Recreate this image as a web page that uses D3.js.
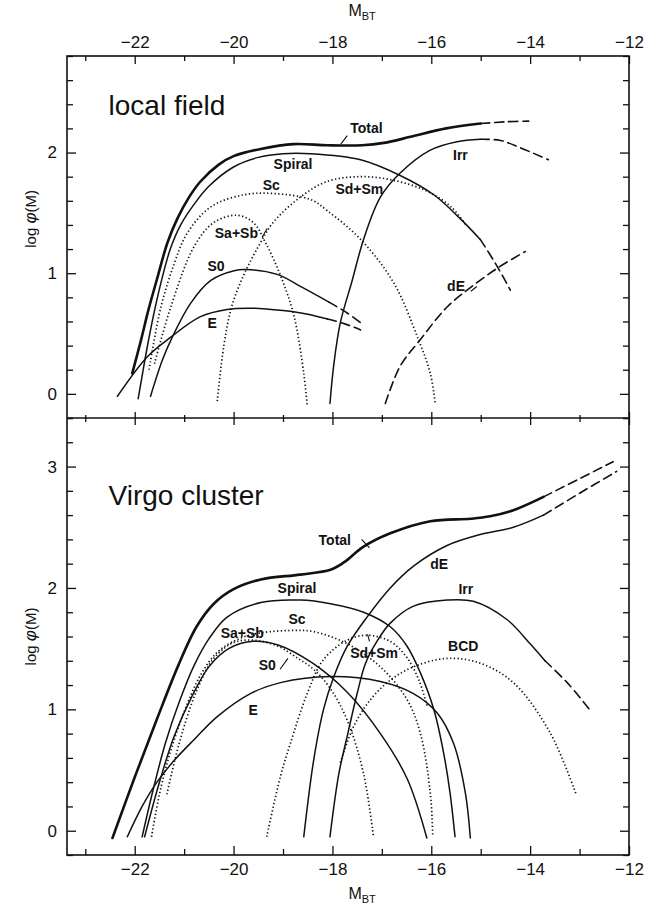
<!DOCTYPE html>
<html><head><meta charset="utf-8">
<script src="https://cdn.jsdelivr.net/npm/d3@7"></script>
<style>
html,body{margin:0;padding:0;background:#fff;}
svg{display:block;font-family:"Liberation Sans",Arial,sans-serif;}
</style></head>
<body>
<script>
// ---------- data ----------
const xMajorTicks = [-22, -20, -18, -16, -14, -12];
const xMinorTicks = [-23, -21, -19, -17, -15, -13];
const topYMajor = [0, 1, 2];
const botYMajor = [0, 1, 2, 3];

// local field (top panel): [M_BT, log phi]
const lfTotal = [[-22.05,0.17],[-21.87,0.45],[-21.72,0.7],[-21.55,0.95],[-21.34,1.25],[-21.14,1.45],[-20.9,1.63],[-20.67,1.76],[-20.3,1.9],[-20.0,1.97],[-19.45,2.03],[-18.78,2.07],[-18.1,2.06],[-17.4,2.06],[-16.96,2.08],[-16.42,2.13],[-15.7,2.2],[-15.0,2.24]];
const lfTotalExt = [[-15.0,2.24],[-14.5,2.255],[-14.03,2.26]];
const lfSpiral = [[-21.93,-0.04],[-21.85,0.15],[-21.75,0.38],[-21.62,0.65],[-21.47,0.92],[-21.28,1.2],[-21.07,1.4],[-20.8,1.57],[-20.5,1.72],[-20.0,1.88],[-19.5,1.96],[-19.0,1.99],[-18.44,1.99],[-17.43,1.94],[-16.63,1.81],[-15.95,1.65],[-15.41,1.45],[-15.01,1.28]];
const lfSpiralExt = [[-15.01,1.28],[-14.7,1.08],[-14.4,0.86]];
const lfE = [[-22.35,-0.02],[-21.74,0.31],[-21.27,0.47],[-20.67,0.64],[-20.13,0.70],[-19.6,0.71],[-19.0,0.69],[-18.5,0.66],[-18.1,0.62]];
const lfEExt = [[-18.1,0.62],[-17.75,0.58],[-17.43,0.53]];
const lfS0 = [[-21.68,-0.02],[-21.44,0.28],[-21.24,0.47],[-20.87,0.75],[-20.46,0.94],[-19.99,1.02],[-19.75,1.03],[-19.12,0.99],[-18.6,0.88],[-18.07,0.76]];
const lfS0Ext = [[-18.07,0.76],[-17.7,0.67],[-17.37,0.57]];
const lfSc = [[-21.71,0.2],[-21.47,0.72],[-21.2,1.08],[-20.94,1.33],[-20.46,1.55],[-19.79,1.65],[-19.18,1.66],[-18.44,1.61],[-18.11,1.52],[-17.43,1.28],[-16.76,0.92],[-16.26,0.45],[-16.02,0.17],[-15.92,-0.08]];
const lfSaSb = [[-21.6,0.25],[-21.27,0.72],[-20.8,1.22],[-20.4,1.42],[-19.93,1.48],[-19.6,1.42],[-19.35,1.25],[-19.05,0.98],[-18.78,0.65],[-18.58,0.17],[-18.51,-0.1]];
const lfSdSm = [[-20.33,-0.06],[-20.2,0.39],[-20.04,0.72],[-19.8,0.98],[-19.5,1.22],[-19.2,1.42],[-18.65,1.63],[-18.11,1.76],[-17.43,1.80],[-16.76,1.77],[-16.09,1.68],[-15.6,1.55],[-15.3,1.4]];
const lfIrr = [[-18.05,-0.08],[-17.97,0.25],[-17.84,0.59],[-17.6,0.94],[-17.37,1.28],[-17.03,1.63],[-16.63,1.83],[-16.02,2.02],[-15.48,2.09],[-15.01,2.11]];
const lfIrrExt = [[-15.01,2.11],[-14.6,2.1],[-14.2,2.04],[-13.63,1.94]];
const lfDE = [[-16.93,-0.08],[-16.63,0.23],[-16.26,0.43],[-15.68,0.72],[-15.21,0.88],[-14.67,1.04],[-14.1,1.18]];

// Virgo cluster (bottom panel)
const vcTotal = [[-22.45,-0.06],[-22.0,0.44],[-21.55,0.92],[-21.12,1.36],[-20.75,1.68],[-20.4,1.87],[-20.0,1.99],[-19.45,2.07],[-18.65,2.11],[-18.04,2.15],[-17.77,2.21],[-17.37,2.34],[-16.83,2.45],[-16.02,2.55],[-15.2,2.57],[-14.81,2.59],[-14.34,2.64],[-13.73,2.75]];
const vcTotalExt = [[-13.73,2.75],[-13.0,2.9],[-12.32,3.04]];
const vcDE = [[-18.58,-0.05],[-18.38,0.58],[-18.18,1.0],[-17.97,1.27],[-17.7,1.52],[-17.3,1.76],[-16.83,2.0],[-16.36,2.18],[-15.68,2.35],[-15.01,2.44],[-14.34,2.50],[-13.73,2.60]];
const vcDEExt = [[-13.73,2.60],[-13.0,2.78],[-12.25,2.96]];
const vcIrr = [[-18.05,-0.05],[-17.87,0.47],[-17.7,0.78],[-17.5,1.13],[-17.33,1.38],[-17.1,1.56],[-16.83,1.71],[-16.36,1.85],[-15.68,1.9],[-15.15,1.89],[-14.47,1.74],[-14.0,1.54],[-13.7,1.40]];
const vcIrrExt = [[-13.7,1.40],[-13.25,1.22],[-12.8,1.0]];
const vcSpiral = [[-21.85,-0.05],[-21.62,0.35],[-21.38,0.72],[-21.1,1.06],[-20.8,1.36],[-20.5,1.58],[-20.13,1.76],[-19.45,1.88],[-18.65,1.90],[-18.04,1.87],[-17.37,1.80],[-16.83,1.68],[-16.49,1.52],[-16.22,1.30],[-15.95,1.0],[-15.75,0.64],[-15.62,0.31],[-15.52,-0.05]];
const vcS0 = [[-21.8,-0.05],[-21.5,0.4],[-21.2,0.78],[-20.85,1.1],[-20.5,1.35],[-20.1,1.5],[-19.6,1.56],[-19.1,1.53],[-18.4,1.38],[-17.7,1.14],[-17.03,0.80],[-16.49,0.43],[-16.09,-0.06]];
const vcE = [[-22.15,-0.05],[-21.85,0.2],[-21.55,0.4],[-21.2,0.58],[-20.8,0.75],[-20.33,0.94],[-19.66,1.13],[-19.05,1.22],[-18.04,1.27],[-17.03,1.23],[-16.36,1.13],[-15.88,0.97],[-15.55,0.72],[-15.31,0.31],[-15.21,-0.06]];
const vcSc = [[-21.66,-0.05],[-21.5,0.3],[-21.3,0.62],[-21.0,0.98],[-20.67,1.28],[-20.33,1.47],[-19.9,1.58],[-19.45,1.63],[-18.78,1.65],[-18.38,1.64],[-17.7,1.54],[-17.03,1.35],[-16.49,1.08],[-16.22,0.80],[-16.02,0.31],[-15.97,-0.05]];
const vcSaSb = [[-21.35,0.3],[-21.1,0.72],[-20.75,1.15],[-20.4,1.42],[-20.0,1.55],[-19.6,1.57],[-19.1,1.52],[-18.7,1.42],[-18.38,1.33],[-18.04,1.17],[-17.7,0.91],[-17.37,0.47],[-17.17,-0.05]];
const vcSdSm = [[-19.33,-0.05],[-19.05,0.45],[-18.85,0.72],[-18.51,1.13],[-18.18,1.41],[-17.7,1.57],[-17.3,1.61],[-16.83,1.56],[-16.5,1.43],[-16.25,1.24],[-16.08,1.02]];
const vcBCD = [[-17.84,0.56],[-17.57,0.86],[-17.23,1.08],[-16.83,1.24],[-16.36,1.35],[-15.68,1.42],[-15.01,1.38],[-14.34,1.22],[-13.6,0.81],[-13.06,0.29]];

// curve labels: [text, M_BT, log phi]
const lfLabels = [["Total",-17.64,2.16],["Spiral",-19.19,1.86],["Sc",-19.41,1.69],["Sd+Sm",-17.94,1.66],["Sa+Sb",-20.38,1.29],["S0",-20.53,1.02],["E",-20.53,0.55],["Irr",-15.56,1.94],["dE",-15.68,0.85]];
const vcLabels = [["Total",-18.28,2.35],["Spiral",-19.11,1.96],["Sc",-18.89,1.70],["Sa+Sb",-20.26,1.59],["S0",-19.49,1.32],["E",-19.70,0.95],["Sd+Sm",-17.64,1.42],["dE",-16.02,2.16],["Irr",-15.45,1.95],["BCD",-15.66,1.48]];
// label leader ticks: [x1,y1,x2,y2]
const lfLeaders = [[-17.83,2.07,-17.70,2.14],[-19.42,1.30,-19.32,1.37],[-15.20,0.85,-15.08,0.89]];
const vcLeaders = [[-17.41,2.40,-17.25,2.33],[-19.06,1.33,-18.90,1.42],[-17.29,1.62,-17.25,1.56]];
const panelTitles = ["local field", "Virgo cluster"];

// ---------- layout ----------
const W = 651, H = 905;
const L = 67, R = 629, T = 56, MID = 418, B = 855;
const x = d3.scaleLinear().domain([-23.37, -12]).range([L, R]);
const yTop = d3.scaleLinear().domain([-0.2, 2.8]).range([MID, T]);
const yBot = d3.scaleLinear().domain([-0.2, 3.4]).range([B, MID]);

const svg = d3.select("body").append("svg").attr("width", W).attr("height", H);

const styles = {
  total: {w: 2.6, dash: null},
  solid: {w: 1.5, dash: null},
  dashed: {w: 1.6, dash: "9,5"},
  dotted: {w: 1.7, dash: "1.3,2.4"}
};

function drawPanel(y, series, labels, leaders, title, titleY) {
  const g = svg.append("g");
  const line = d3.line().x(d => x(d[0])).y(d => y(d[1])).curve(d3.curveCatmullRom.alpha(0.5));
  series.forEach(s => {
    const st = styles[s.style];
    g.append("path").datum(s.data).attr("d", line)
      .attr("fill", "none").attr("stroke", "#111")
      .attr("stroke-width", st.w)
      .attr("stroke-dasharray", st.dash)
      .attr("stroke-linecap", s.style === "dotted" ? "butt" : "round")
      .attr("stroke-linejoin", "round");
  });
  g.selectAll("text.lab").data(labels).join("text")
    .attr("x", d => x(d[1])).attr("y", d => y(d[2]))
    .attr("font-size", 14).attr("font-weight", "bold").attr("fill", "#111")
    .text(d => d[0]);
  g.selectAll("line.ld").data(leaders).join("line")
    .attr("x1", d => x(d[0])).attr("y1", d => y(d[1]))
    .attr("x2", d => x(d[2])).attr("y2", d => y(d[3]))
    .attr("stroke", "#111").attr("stroke-width", 1.1);
  g.append("text").attr("x", x(-22.53)).attr("y", y(titleY))
    .attr("font-size", 28).attr("fill", "#111").text(title);
}

drawPanel(yTop, [
  {data: lfSc, style: "dotted"}, {data: lfSaSb, style: "dotted"}, {data: lfSdSm, style: "dotted"},
  {data: lfE, style: "solid"}, {data: lfEExt, style: "dashed"},
  {data: lfS0, style: "solid"}, {data: lfS0Ext, style: "dashed"},
  {data: lfSpiral, style: "solid"}, {data: lfSpiralExt, style: "dashed"},
  {data: lfIrr, style: "solid"}, {data: lfIrrExt, style: "dashed"},
  {data: lfDE, style: "dashed"},
  {data: lfTotal, style: "total"}, {data: lfTotalExt, style: "dashed"}
], lfLabels, lfLeaders, panelTitles[0], 2.31);

drawPanel(yBot, [
  {data: vcSc, style: "dotted"}, {data: vcSaSb, style: "dotted"}, {data: vcSdSm, style: "dotted"}, {data: vcBCD, style: "dotted"},
  {data: vcE, style: "solid"}, {data: vcS0, style: "solid"}, {data: vcSpiral, style: "solid"},
  {data: vcIrr, style: "solid"}, {data: vcIrrExt, style: "dashed"},
  {data: vcDE, style: "solid"}, {data: vcDEExt, style: "dashed"},
  {data: vcTotal, style: "total"}, {data: vcTotalExt, style: "dashed"}
], vcLabels, vcLeaders, panelTitles[1], 2.68);

// ---------- axes ----------
const fmt = d3.format("d");
function styleAxis(sel, fs) {
  sel.select(".domain").remove();
  sel.selectAll(".tick line").attr("stroke", "#111").attr("stroke-width", 1.3);
  sel.selectAll(".tick text").attr("font-size", fs).attr("fill", "#111")
     .attr("font-family", "Liberation Sans, Arial, sans-serif");
}
function minorY(y) {
  const d = y.domain(); const out = [];
  for (let v = Math.ceil(d[0] * 5) / 5; v <= d[1] + 1e-9; v += 0.2) {
    const r = Math.round(v * 10) / 10;
    if (Math.abs(r - Math.round(r)) > 1e-6) out.push(r);
  }
  return out;
}

// top axis
svg.append("g").attr("transform", `translate(0,${T})`)
  .call(d3.axisTop(x).tickValues(xMajorTicks).tickSize(-8).tickPadding(8).tickFormat(fmt))
  .call(s => styleAxis(s, 17));
svg.append("g").attr("transform", `translate(0,${T})`)
  .call(d3.axisTop(x).tickValues(xMinorTicks).tickSize(-5).tickFormat(""))
  .call(s => styleAxis(s, 17));
// divider ticks (both directions)
[[xMajorTicks, 7], [xMinorTicks, 4]].forEach(([tv, sz]) => {
  svg.append("g").attr("transform", `translate(0,${MID})`)
    .call(d3.axisBottom(x).tickValues(tv).tickSize(sz).tickFormat("")).call(s => styleAxis(s, 17));
  svg.append("g").attr("transform", `translate(0,${MID})`)
    .call(d3.axisTop(x).tickValues(tv).tickSize(sz - 1).tickFormat("")).call(s => styleAxis(s, 17));
});
// bottom axis
svg.append("g").attr("transform", `translate(0,${B})`)
  .call(d3.axisBottom(x).tickValues(xMajorTicks).tickSize(-9).tickPadding(8).tickFormat(fmt))
  .call(s => styleAxis(s, 17));
svg.append("g").attr("transform", `translate(0,${B})`)
  .call(d3.axisBottom(x).tickValues(xMinorTicks).tickSize(-6).tickFormat(""))
  .call(s => styleAxis(s, 17));

// left / right axes
[[yTop, topYMajor], [yBot, botYMajor]].forEach(([y, maj]) => {
  svg.append("g").attr("transform", `translate(${L},0)`)
    .call(d3.axisLeft(y).tickValues(maj).tickSize(-9).tickPadding(10).tickFormat(fmt))
    .call(s => styleAxis(s, 17));
  svg.append("g").attr("transform", `translate(${L},0)`)
    .call(d3.axisLeft(y).tickValues(minorY(y)).tickSize(-6).tickFormat(""))
    .call(s => styleAxis(s, 17));
  svg.append("g").attr("transform", `translate(${R},0)`)
    .call(d3.axisRight(y).tickValues(maj).tickSize(-9).tickFormat(""))
    .call(s => styleAxis(s, 17));
  svg.append("g").attr("transform", `translate(${R},0)`)
    .call(d3.axisRight(y).tickValues(minorY(y)).tickSize(-6).tickFormat(""))
    .call(s => styleAxis(s, 17));
});

// frame
svg.append("rect").attr("x", L).attr("y", T).attr("width", R - L).attr("height", B - T)
  .attr("fill", "none").attr("stroke", "#111").attr("stroke-width", 1.6);
svg.append("line").attr("x1", L).attr("x2", R).attr("y1", MID).attr("y2", MID)
  .attr("stroke", "#111").attr("stroke-width", 1.6);

// axis titles
function mbt(xc, yb) {
  const t = svg.append("text").attr("x", xc).attr("y", yb).attr("text-anchor", "middle")
    .attr("font-size", 16).attr("fill", "#111");
  t.append("tspan").text("M");
  t.append("tspan").attr("font-size", 11).attr("dy", 4).text("BT");
}
mbt((x(-17.4)), 16);
mbt((x(-17.4)), 899);

function ylab(yc) {
  const t = svg.append("text").attr("transform", `translate(36,${yc}) rotate(-90)`)
    .attr("text-anchor", "middle").attr("font-size", 15).attr("fill", "#111");
  t.append("tspan").text("log ");
  t.append("tspan").attr("font-style", "italic").attr("font-size", 17).text("φ");
  t.append("tspan").text("(M)");
}
ylab((yTop(1.45)));
ylab((yBot(1.6)));
</script>
</body></html>
